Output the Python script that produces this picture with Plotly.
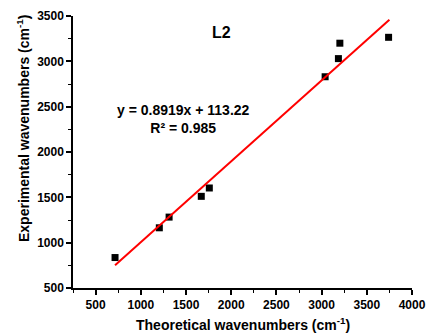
import plotly.graph_objects as go

theoretical = [715, 1205, 1313, 1669, 1758, 3039, 3186, 3202, 3741]
experimental = [836, 1164, 1282, 1511, 1603, 2830, 3030, 3200, 3265]
slope = 0.8919
intercept = 113.22
fit_x = [715, 3750]
fit_y = [slope * v + intercept for v in fit_x]

font_family = "Liberation Sans, Arial, sans-serif"

W, H = 427, 336
ml, mr, mt, mb = 73, 15, 16, 48
pw, ph = W - ml - mr, H - mt - mb


def px(xp):
    return (xp - ml) / pw


def py(yp):
    return 1 - (yp - mt) / ph


fig = go.Figure()
fig.add_trace(go.Scatter(x=theoretical, y=experimental, mode="markers",
                         marker=dict(symbol="square", size=7, color="black"),
                         showlegend=False, cliponaxis=False))
fig.add_trace(go.Scatter(x=fit_x, y=fit_y, mode="lines",
                         line=dict(color="red", width=2), showlegend=False))

axis_common = dict(showline=True, linecolor="black", linewidth=1.5,
                   ticks="outside", ticklen=5, tickwidth=1.5, tickcolor="black",
                   showgrid=False, zeroline=False, automargin=False,
                   tickfont=dict(family=font_family, size=12, color="black", weight="bold"),
                   minor=dict(ticks="outside", ticklen=3, tickwidth=1, tickcolor="black", dtick=250))

fig.update_xaxes(range=[250, 4000], tick0=500, dtick=500, **axis_common)
fig.update_yaxes(range=[500, 3500], tick0=500, dtick=500, **axis_common)

title_font = dict(family=font_family, size=14, color="black", weight="bold")
anchor = dict(xref="paper", yref="paper", showarrow=False, xanchor="center", yanchor="middle")
fig.add_annotation(text="Theoretical wavenumbers (cm<sup>-1</sup>)", x=px(243), y=py(324),
                   font=title_font, **anchor)
fig.add_annotation(text="Experimental wavenumbers (cm<sup>-1</sup>)", x=px(23), y=py(129),
                   textangle=-90, font=title_font, **anchor)
fig.add_annotation(text="L2", x=px(221), y=py(32),
                   font=dict(family=font_family, size=16, color="black", weight="bold"), **anchor)
fig.add_annotation(text="y = 0.8919x + 113.22<br>R² = 0.985", x=px(183), y=py(119), align="center",
                   font=dict(family=font_family, size=14, color="black", weight="bold"), **anchor)

fig.update_layout(width=W, height=H, margin=dict(l=ml, r=mr, t=mt, b=mb),
                  plot_bgcolor="white", paper_bgcolor="white")
fig.write_html("out.html", config={"displayModeBar": False},
               post_script="document.body.style.margin='0';document.body.style.overflow='hidden';")
